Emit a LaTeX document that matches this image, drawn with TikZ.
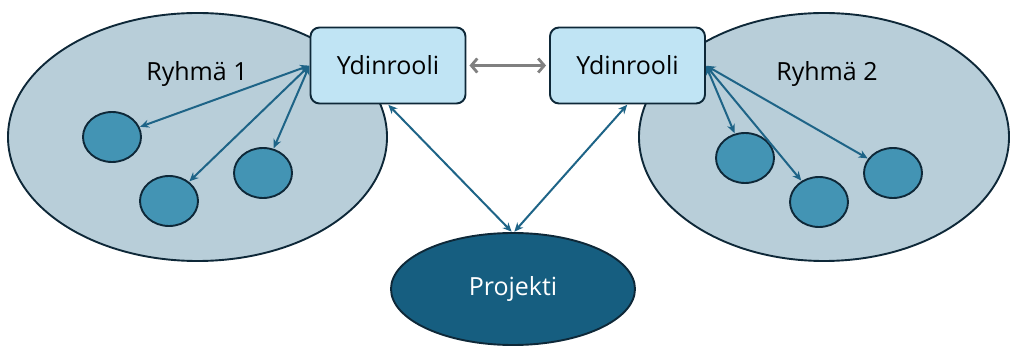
\documentclass[tikz,border=0pt]{standalone}
\usepackage{fontspec}
\setmainfont{Open Sans}
\usetikzlibrary{shapes.geometric,arrows.meta}
\definecolor{grpfill}{RGB}{184,206,217}
\definecolor{dark}{RGB}{14,40,56}
\definecolor{memfill}{RGB}{67,148,180}
\definecolor{boxfill}{RGB}{192,228,244}
\definecolor{projfill}{RGB}{22,94,128}
\definecolor{arrcol}{RGB}{30,100,135}
\definecolor{graycol}{RGB}{128,128,128}
\tikzset{
  grp/.style={ellipse, draw=dark, line width=1.9pt, fill=grpfill, inner sep=0pt},
  mem/.style={ellipse, draw=dark, line width=1.9pt, fill=memfill, inner sep=0pt, minimum width=58pt, minimum height=50pt},
  core/.style={rectangle, rounded corners=9pt, draw=dark, line width=1.9pt, fill=boxfill, minimum width=155pt, minimum height=76pt, inner sep=0pt, font=\fontsize{25}{30}\selectfont},
  proj/.style={ellipse, draw=dark, line width=1.9pt, fill=projfill, minimum width=244pt, minimum height=112pt, inner sep=0pt, text=white, font=\fontsize{25}{30}\selectfont},
  lbl/.style={font=\fontsize{25}{30}\selectfont, inner sep=0pt},
  arr/.style={draw=arrcol, line width=2pt, {Stealth[length=9pt,width=8pt]}-{Stealth[length=9pt,width=8pt]}, shorten <=0.5pt, shorten >=0.5pt},
  garr/.style={draw=graycol, line width=2.8pt, {Straight Barb[length=6pt,width=14pt]}-{Straight Barb[length=6pt,width=14pt]}, shorten <=3pt, shorten >=3pt}
}
\begin{document}
\begin{tikzpicture}[x=1pt,y=-1pt]
\useasboundingbox (0,0) rectangle (1010,347);
% groups
\node[grp, minimum width=379pt, minimum height=248pt] (g1) at (197.5,137) {};
\node[grp, minimum width=370pt, minimum height=248pt] (g2) at (824,137) {};
\node[lbl] (l1) at (197,74) {Ryhmä 1};
\node[lbl] (l2) at (827,74) {Ryhmä 2};
% members
\node[mem] (a1) at (112,137) {};
\node[mem] (a2) at (169,201) {};
\node[mem] (a3) at (263,173) {};
\node[mem] (b1) at (745,158) {};
\node[mem] (b2) at (819,202) {};
\node[mem] (b3) at (893,173) {};
% core boxes
\node[core] (y1) at (388,65.5) {Ydinrooli};
\node[core] (y2) at (627.5,65.5) {Ydinrooli};
% project
\node[proj] (p) at (513,289) {Projekti};
% arrows
\draw[arr] (y1.west) -- (a1);
\draw[arr] (y1.west) -- (a2);
\draw[arr] (y1.west) -- (a3);
\draw[arr] (y2.east) -- (b1);
\draw[arr] (y2.east) -- (b2);
\draw[arr] (y2.east) -- (b3);
\draw[arr] (y1.south) -- ([xshift=-1pt]p.north);
\draw[arr] (y2.south) -- ([xshift=1pt]p.north);
\draw[garr] (y1.east) -- (y2.west);
\end{tikzpicture}
\end{document}
